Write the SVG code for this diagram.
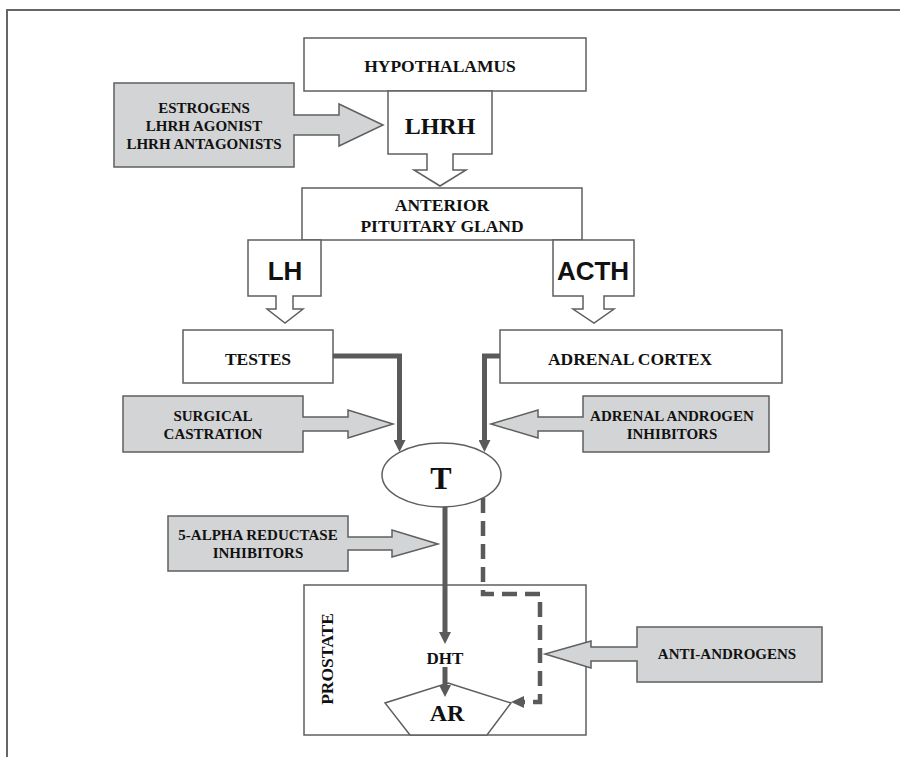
<svg xmlns="http://www.w3.org/2000/svg" width="900" height="757" viewBox="0 0 900 757">
<defs>
<style>
.box{fill:#fff;stroke:#5f5f5f;stroke-width:1.5}
.gray{fill:#d3d4d6;stroke:#5f5f5f;stroke-width:1.5}
.t{font-family:"Liberation Serif","Times New Roman",serif;font-weight:bold;fill:#111;text-anchor:middle}
.s{font-size:15px}
.m{font-size:17.5px}
.sans{font-family:"Liberation Sans",Arial,sans-serif;font-weight:bold;fill:#111;text-anchor:middle;font-size:26px}
.thick{fill:none;stroke:#5a5a5a;stroke-width:5}
.dash{fill:none;stroke:#5a5a5a;stroke-width:4.5;stroke-dasharray:15 8}
</style>
<marker id="ah" viewBox="0 0 10 10" refX="5" refY="5" markerWidth="2.4" markerHeight="2.4" orient="auto" markerUnits="strokeWidth">
<path d="M0,0 L10,5 L0,10 Z" fill="#5a5a5a"/>
</marker>
</defs>
<rect width="900" height="757" fill="#fff"/>
<path d="M7,757 V10 H900" fill="none" stroke="#666" stroke-width="2"/>

<g id="hypothalamus">
<rect class="box" x="304" y="38" width="282" height="53"/>
<text class="t m" x="440" y="72">HYPOTHALAMUS</text>
</g>
<g id="lhrh">
<path class="box" d="M388,91 H492 V154 H453 V170 H466 L440,186 L414,170 H427 V154 H388 Z"/>
<text class="t" x="440" y="134" font-size="24">LHRH</text>
</g>
<g id="estrogens">
<path class="gray" d="M114,83 H294 V115 H339 V104 L383,125 L339,146 V135 H294 V167 H114 Z"/>
<text class="t s" x="204" y="113">ESTROGENS</text>
<text class="t s" x="204" y="131">LHRH AGONIST</text>
<text class="t s" x="204" y="149">LHRH ANTAGONISTS</text>
</g>
<g id="pituitary">
<rect class="box" x="302" y="188" width="280" height="52"/>
<text class="t m" x="442" y="211">ANTERIOR</text>
<text class="t m" x="442" y="232">PITUITARY GLAND</text>
</g>
<g id="lh">
<path class="box" d="M248,240 H321 V296 H293 V309 H303 L285,323 L267,309 H276 V296 H248 Z"/>
<text class="sans" x="285" y="280">LH</text>
</g>
<g id="acth">
<path class="box" d="M553,240 H634 V296 H604 V309 H614 L594,323 L573,309 H583 V296 H553 Z"/>
<text class="sans" x="593" y="280">ACTH</text>
</g>
<g id="testes">
<rect class="box" x="183" y="330" width="150" height="53"/>
<text class="t m" x="258" y="365">TESTES</text>
</g>
<g id="adrenal">
<rect class="box" x="500" y="330" width="282" height="53"/>
<text class="t m" x="630" y="365">ADRENAL CORTEX</text>
</g>
<g id="surgical">
<path class="gray" d="M123,396 H303 V417 H348 V410 L393,424 L348,438 V431 H303 V452 H123 Z"/>
<text class="t s" x="213" y="421">SURGICAL</text>
<text class="t s" x="213" y="439">CASTRATION</text>
</g>
<g id="adrenal-inhibitors">
<path class="gray" d="M769,396 H583 V417 H538 V410 L491,424 L538,438 V431 H583 V452 H769 Z"/>
<text class="t s" x="672" y="421">ADRENAL ANDROGEN</text>
<text class="t s" x="672" y="439">INHIBITORS</text>
</g>
<g id="t">
<ellipse class="box" cx="441.5" cy="475" rx="59.5" ry="32"/>
<text class="t" x="441" y="489" font-size="32">T</text>
</g>
<g id="reductase">
<path class="gray" d="M168,516 H348 V537 H392 V530 L438,544 L392,557 V550 H348 V571 H168 Z"/>
<text class="t s" x="258" y="540">5-ALPHA REDUCTASE</text>
<text class="t s" x="258" y="558">INHIBITORS</text>
</g>
<g id="prostate">
<rect class="box" x="304" y="585" width="282" height="150"/>
<text class="t m" transform="translate(333,659) rotate(-90)" x="0" y="0">PROSTATE</text>
</g>
<g id="dht">
<text class="t" x="445" y="664" font-size="17">DHT</text>
</g>
<g id="ar">
<path class="box" d="M448,683 L511,703 L487,735 H410 L385,703 Z"/>
<text class="t" x="447" y="721" font-size="24">AR</text>
</g>
<g id="anti-androgens">
<path class="gray" d="M822,627 H637 V647 H591 V641 L545,654 L591,668 V661 H637 V682 H822 Z"/>
<text class="t s" x="727" y="659">ANTI-ANDROGENS</text>
</g>

<g id="connectors">
<path class="thick" d="M333,356 H399.5 V446" marker-end="url(#ah)"/>
<path class="thick" d="M500,356 H484.5 V446" marker-end="url(#ah)"/>
<path class="thick" d="M445,507 V638" marker-end="url(#ah)"/>
<path class="thick" d="M445,667 V691" marker-end="url(#ah)"/>
<path class="dash" d="M483,498 V594 H540 V702 H524"/>
<path d="M524,696 L511,702 L524,708 Z" fill="#5a5a5a"/>
</g>
</svg>
